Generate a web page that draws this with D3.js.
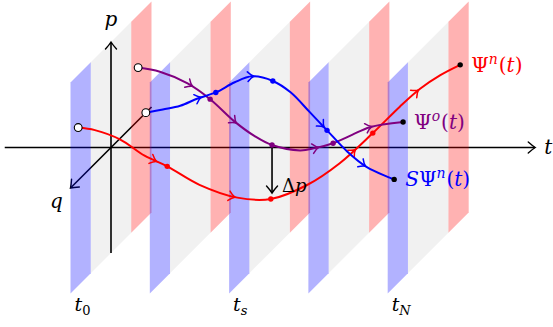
<!DOCTYPE html>
<html>
<head>
<meta charset="utf-8">
<script src="https://cdn.jsdelivr.net/npm/d3@7"></script>
<style>
  body { margin: 0; background: #fff; }
  svg { display: block; }
</style>
</head>
<body>
<div id="chart"></div>
<script>
// slabs (time planes) and their labels
const slabTimes = [0, 1, 2, 3, 4];
const labelTimes = [0, 2, 4];
const labelSubs = ['0', 's', 'N'];

// trajectories, as (t, q, p)
const redT = [0, 0.19, 0.47, 0.74, 1, 1.32, 1.68, 2, 2.36, 2.67, 3, 3.30, 3.53, 3.76, 4];
const redQ = [0.81, 0.77, 0.69, 0.62, 0.57, 0.40, 0.17, -0.03, -0.22, -0.42, -0.59, -0.67, -0.72, -0.77, -0.79];
const redP = [0.50, 0.46, 0.34, 0.16, 0.04, -0.20, -0.41, -0.50, -0.44, -0.31, -0.09, 0.13, 0.28, 0.39, 0.48];

const purpleT = [0, 0.30, 0.69, 1, 1.40, 1.73, 2, 2.46, 2.70, 3, 3.28, 3.54, 4];
const purpleQ = [-0.67, -0.62, -0.54, -0.49, -0.32, -0.17, -0.06, 0.15, 0.25, 0.39, 0.47, 0.54, 0.62];
const purpleP = [0.50, 0.48, 0.40, 0.27, 0.12, 0.04, 0.00, 0.03, 0.09, 0.19, 0.30, 0.40, 0.48];

const blueT = [0, 0.24, 0.48, 0.74, 1, 1.31, 1.60, 2, 2.30, 2.66, 3, 3.32, 3.62, 4];
const blueQ = [-0.86, -0.81, -0.77, -0.69, -0.63, -0.49, -0.35, -0.08, 0.07, 0.30, 0.54, 0.67, 0.77, 0.84];
const blueP = [0.00, 0.05, 0.10, 0.20, 0.28, 0.43, 0.54, 0.60, 0.55, 0.45, 0.37, 0.22, 0.11, 0.02];

// where the direction marks sit, as fraction of path length
const arrowFracs = [0.19, 0.385, 0.69, 0.885];

const width = 553, height = 327;
const serif = 'DejaVu Serif';

const svg = d3.select('#chart').append('svg')
  .attr('width', width)
  .attr('height', height)
  .style('font-family', serif);

// oblique projection: q goes toward the viewer, down-left at 45 degrees
const tS = d3.scaleLinear().domain([0, 4]).range([111, 428.2]);
const pS = d3.scaleLinear().domain([-1, 1]).range([253, 42]);
const qS = d3.scaleLinear().domain([-1, 1]).range([-40.5, 40.5]);
const proj = (t, q, p) => [tS(t) - qS(q), pS(p) + qS(q)];

const g = svg.append('g');

function axisArrow(sel, x, y, ang, color) {
  sel.append('path')
    .attr('d', 'M-7,-5.5 Q-2.5,-1.5 0,0 Q-2.5,1.5 -7,5.5')
    .attr('transform', `translate(${x},${y}) rotate(${ang})`)
    .attr('fill', 'none')
    .attr('stroke', color)
    .attr('stroke-width', 1.4)
    .attr('stroke-linecap', 'round');
}

// axes (under the slabs)
const axes = g.append('g').attr('class', 'axes');
const pA = proj(0, 0, -1), pB = proj(0, 0, 1);
axes.append('line').attr('x1', pA[0]).attr('y1', pA[1]).attr('x2', pB[0]).attr('y2', pB[1] + 0.5)
  .attr('stroke', '#000').attr('stroke-width', 1.6);
axisArrow(axes, pB[0], pB[1], -90, '#000');

const qA = proj(0, -1, 0), qB = proj(0, 1, 0);
axes.append('line').attr('x1', qA[0]).attr('y1', qA[1]).attr('x2', qB[0] + 0.5).attr('y2', qB[1] - 0.5)
  .attr('stroke', '#000').attr('stroke-width', 1.6);
axisArrow(axes, qB[0], qB[1], 135, '#000');

const tA = proj(-1.34, 0, 0), tB = proj(5.35, 0, 0);
axes.append('line').attr('x1', tA[0]).attr('y1', tA[1]).attr('x2', tB[0] - 0.5).attr('y2', tB[1])
  .attr('stroke', '#000').attr('stroke-width', 1.6);
axisArrow(axes, tB[0], tB[1], 0, '#000');

// slabs: front strip blue, middle grey, back strip red
const bands = [
  { q0: 1, q1: 0.5, fill: 'rgba(0,0,255,0.3)' },
  { q0: 0.5, q1: -0.5, fill: 'rgba(0,0,0,0.055)' },
  { q0: -0.5, q1: -1, fill: 'rgba(255,0,0,0.3)' }
];
const slabs = g.append('g').attr('class', 'slabs');
slabTimes.forEach(t => {
  bands.forEach(b => {
    const pts = [proj(t, b.q0, -1), proj(t, b.q0, 1), proj(t, b.q1, 1), proj(t, b.q1, -1)];
    slabs.append('polygon')
      .attr('points', pts.map(d => d.join(',')).join(' '))
      .attr('fill', b.fill);
  });
});

// slab labels
labelTimes.forEach((t, i) => {
  const c = proj(t, 1, -1);
  const txt = g.append('text')
    .attr('x', c[0] + 4)
    .attr('y', c[1] + 17)
    .attr('font-size', 19);
  txt.append('tspan').attr('font-style', 'italic').text('t');
  txt.append('tspan').attr('font-size', 13).attr('dy', 4)
    .attr('font-style', labelSubs[i] === '0' ? 'normal' : 'italic').text(labelSubs[i]);
});

const line = d3.line().curve(d3.curveCatmullRom.alpha(0.5));

const curves = [
  { T: redT, Q: redQ, P: redP, color: '#ff0000' },
  { T: purpleT, Q: purpleQ, P: purpleP, color: '#800080' },
  { T: blueT, Q: blueQ, P: blueP, color: '#0000ff' }
];

const curveLayer = g.append('g').attr('class', 'curves');
curves.forEach(c => {
  c.pts = c.T.map((t, i) => proj(t, c.Q[i], c.P[i]));
  const path = curveLayer.append('path')
    .attr('d', line(c.pts))
    .attr('fill', 'none')
    .attr('stroke', c.color)
    .attr('stroke-width', 2);
  const node = path.node();
  const L = node.getTotalLength();
  arrowFracs.forEach(f => {
    const a = node.getPointAtLength(f * L - 1.5);
    const b = node.getPointAtLength(f * L + 1.5);
    const m = node.getPointAtLength(f * L);
    const ang = Math.atan2(b.y - a.y, b.x - a.x) * 180 / Math.PI;
    curveLayer.append('path')
      .attr('d', 'M-4,-4.8 Q-0.5,-0.9 2.2,0 Q-0.5,0.9 -4,4.8')
      .attr('transform', `translate(${m.x},${m.y}) rotate(${ang})`)
      .attr('fill', 'none')
      .attr('stroke', c.color)
      .attr('stroke-width', 1.5)
      .attr('stroke-linecap', 'round');
  });
});

// Delta p arrow between Psi^o and Psi^n at t_s
const ds = proj(2, purpleQ[purpleT.indexOf(2)], purpleP[purpleT.indexOf(2)]);
const de = proj(2, redQ[redT.indexOf(2)], redP[redT.indexOf(2)]);
g.append('line')
  .attr('x1', ds[0]).attr('y1', ds[1]).attr('x2', ds[0]).attr('y2', de[1] - 6)
  .attr('stroke', '#000').attr('stroke-width', 1.6);
axisArrow(g, ds[0], de[1] - 6, 90, '#000');
const dp = g.append('text').attr('x', ds[0] + 10).attr('y', de[1] - 7).attr('font-size', 18);
dp.append('tspan').text('Δ');
dp.append('tspan').attr('font-style', 'italic').text('p');

// markers
const marks = g.append('g').attr('class', 'marks');
curves.forEach(c => {
  c.T.forEach((t, i) => {
    if (!Number.isInteger(t)) return;
    const [x, y] = c.pts[i];
    if (t === 0) {
      marks.append('circle').attr('cx', x).attr('cy', y).attr('r', 3.9)
        .attr('fill', '#fff').attr('stroke', '#000').attr('stroke-width', 1.1);
    } else if (t === 4) {
      marks.append('circle').attr('cx', x).attr('cy', y).attr('r', 2.7).attr('fill', '#000');
    } else {
      marks.append('circle').attr('cx', x).attr('cy', y).attr('r', 2.7).attr('fill', c.color);
    }
  });
});

// curve labels
const labels = [
  { c: curves[0], pre: '', sup: 'n' },
  { c: curves[1], pre: '', sup: 'o' },
  { c: curves[2], pre: 'S', sup: 'n' }
];
labels.forEach(l => {
  const end = l.c.pts[l.c.pts.length - 1];
  const txt = g.append('text')
    .attr('x', end[0] + 11)
    .attr('y', end[1] + 7)
    .attr('font-size', 20)
    .attr('fill', l.c.color);
  if (l.pre) txt.append('tspan').attr('font-style', 'italic').text(l.pre);
  txt.append('tspan').text('Ψ');
  txt.append('tspan').attr('font-size', 14).attr('font-style', 'italic').attr('dy', -8).text(l.sup);
  txt.append('tspan').attr('dy', 8).attr('dx', 1).text('(');
  txt.append('tspan').attr('font-style', 'italic').text('t');
  txt.append('tspan').text(')');
});

// axis labels
g.append('text').attr('x', pB[0]).attr('y', pB[1] - 16).attr('text-anchor', 'middle')
  .attr('font-size', 20).attr('font-style', 'italic').text('p');
g.append('text').attr('x', qB[0] - 14).attr('y', qB[1] + 20).attr('text-anchor', 'middle')
  .attr('font-size', 20).attr('font-style', 'italic').text('q');
g.append('text').attr('x', tB[0] + 9).attr('y', tB[1] + 6)
  .attr('font-size', 20).attr('font-style', 'italic').text('t');
</script>
</body>
</html>
